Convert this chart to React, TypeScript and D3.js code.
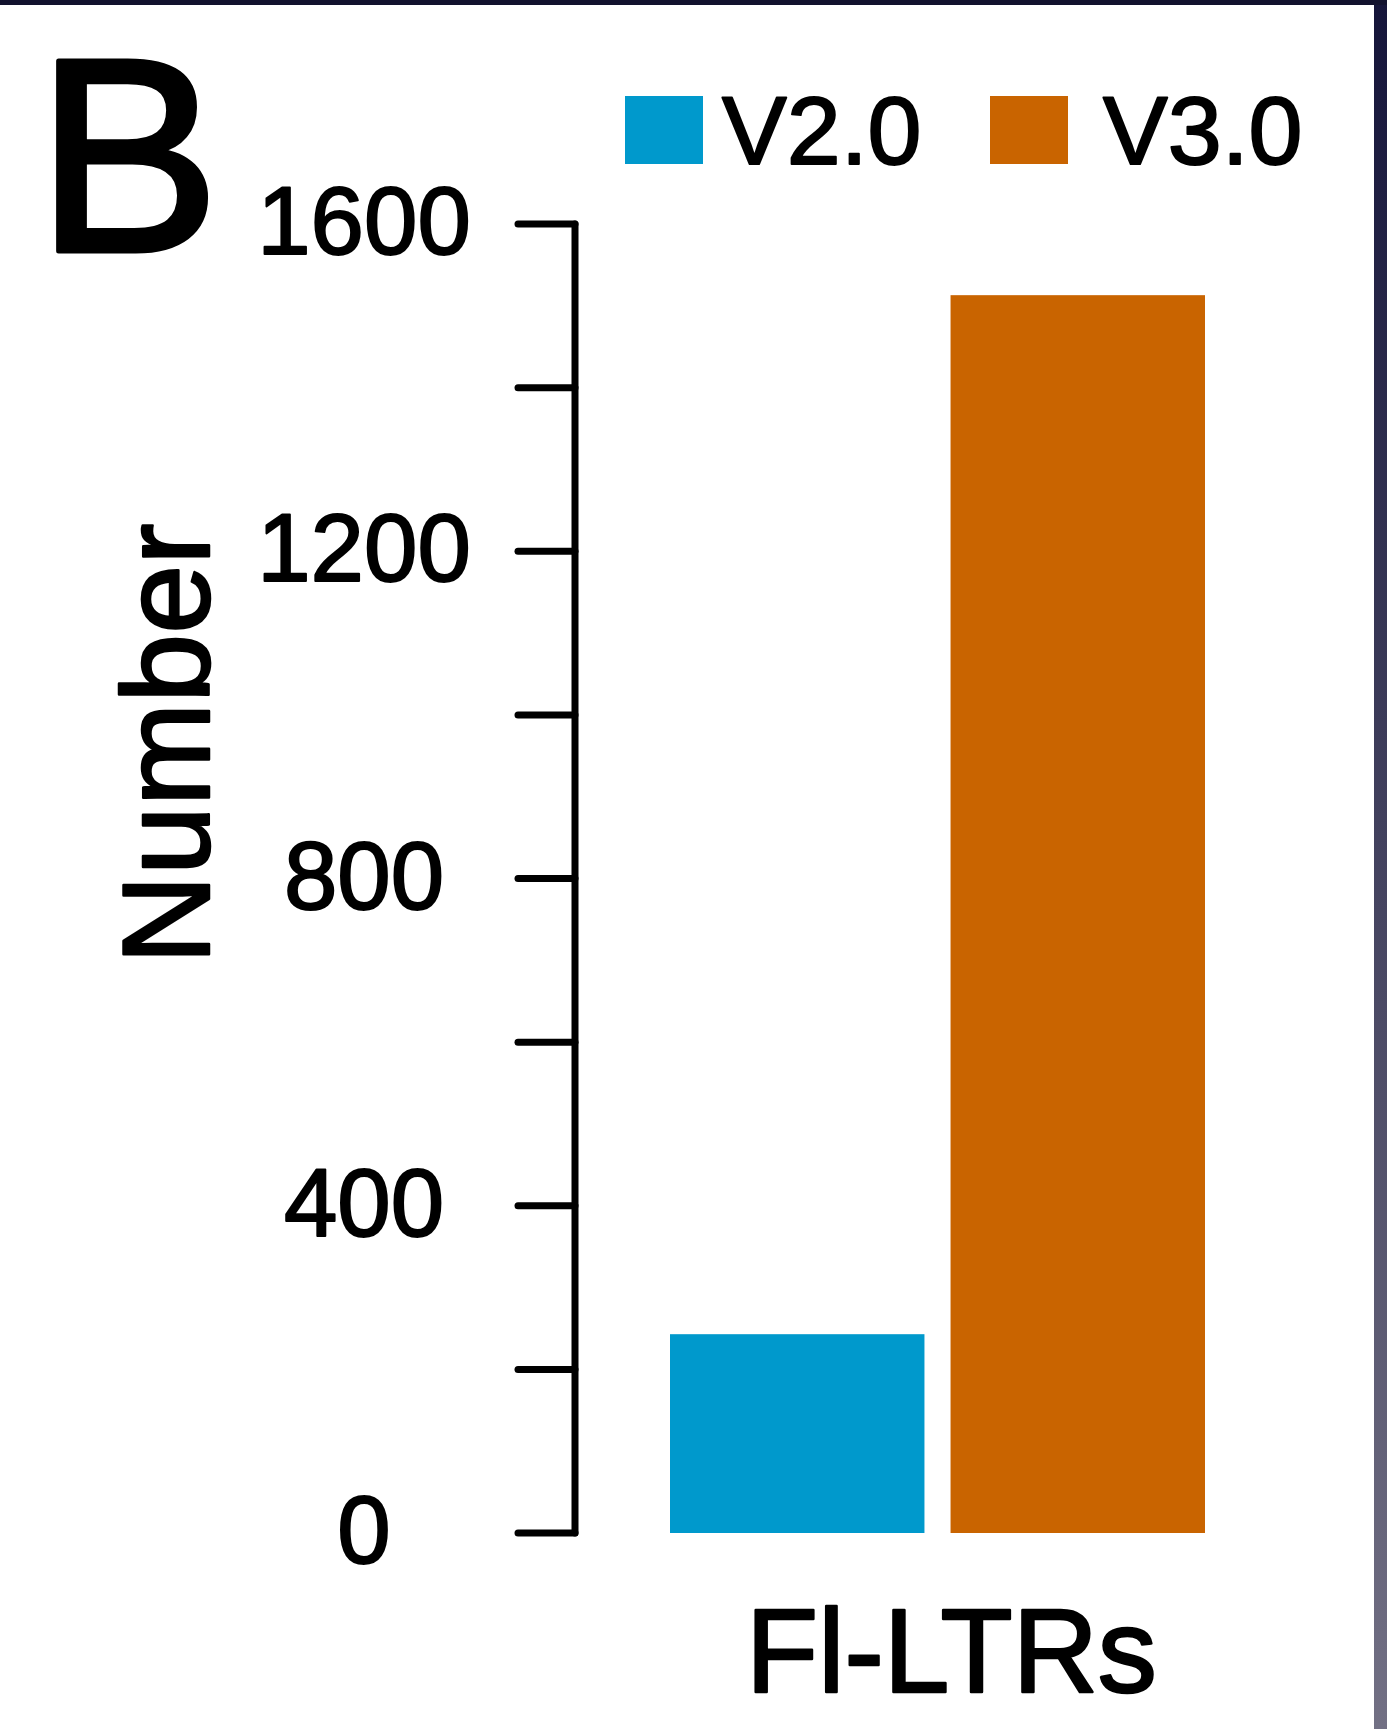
import { useEffect, useRef } from 'react';
import * as d3 from 'd3';

const categories = ['Fl-LTRs'];
const seriesNames = ['V2.0', 'V3.0'];
const seriesColors = ['#0099cc', '#c96400'];
const seriesValues = [243, 1513];
const yTicks = [0, 200, 400, 600, 800, 1000, 1200, 1400, 1600];
const yLabels = [0, 400, 800, 1200, 1600];

const W = 1387;
const H = 1729;
const FONT = "'Liberation Sans', Arial, Helvetica, sans-serif";

export default function App() {
  const svgRef = useRef<SVGSVGElement>(null);

  useEffect(() => {
    if (!svgRef.current) return;
    const svg = d3.select(svgRef.current);
    svg.selectAll('*').remove();
    svg.attr('width', W).attr('height', H);

    // background + dark frame of the screenshot
    const defs = svg.append('defs');
    const grad = defs
      .append('linearGradient')
      .attr('id', 'edge')
      .attr('x1', 0)
      .attr('y1', 0)
      .attr('x2', 0)
      .attr('y2', 1);
    grad.append('stop').attr('offset', '0%').attr('stop-color', '#15153a');
    grad.append('stop').attr('offset', '100%').attr('stop-color', '#727084');
    svg.append('rect').attr('width', W).attr('height', H).attr('fill', '#ffffff');
    svg.append('rect').attr('x', 1374).attr('width', W - 1374).attr('height', H).attr('fill', 'url(#edge)');
    svg.append('rect').attr('width', W).attr('height', 5).attr('fill', '#12122e');

    const y = d3.scaleLinear().domain([0, 1600]).range([1533, 224]);
    const x0 = d3.scaleBand<string>().domain(categories).range([670, 1205]).padding(0);
    const x1 = d3
      .scaleBand<string>()
      .domain(seriesNames)
      .range([0, x0.bandwidth()])
      .paddingInner(0.093)
      .paddingOuter(0);

    const axisX = 575;
    const txt = (sel: d3.Selection<SVGTextElement, unknown, null, undefined>, size: number, sw = 2) =>
      sel
        .attr('font-family', FONT)
        .attr('font-size', size)
        .attr('fill', '#000')
        .attr('stroke', '#000')
        .attr('stroke-width', sw)
        .attr('stroke-linejoin', 'round');

    // y axis
    const axis = svg.append('g').attr('stroke', '#000').attr('stroke-width', 7).attr('stroke-linecap', 'round');
    axis.append('line').attr('x1', axisX).attr('x2', axisX).attr('y1', y(0)).attr('y2', y(1600));
    yTicks.forEach((t) => {
      axis.append('line').attr('x1', 518).attr('x2', axisX).attr('y1', y(t)).attr('y2', y(t));
    });
    yLabels.forEach((t) => {
      txt(
        svg
          .append('text')
          .attr('x', 364)
          .attr('y', y(t) + 30)
          .attr('text-anchor', 'middle'),
        96
      ).text(String(t));
    });

    // bars
    categories.forEach((c) => {
      seriesNames.forEach((s, i) => {
        svg
          .append('rect')
          .attr('x', (x0(c) ?? 0) + (x1(s) ?? 0))
          .attr('y', y(seriesValues[i]))
          .attr('width', x1.bandwidth())
          .attr('height', y(0) - y(seriesValues[i]))
          .attr('fill', seriesColors[i]);
      });
      txt(
        svg
          .append('text')
          .attr('x', (x0(c) ?? 0) + x0.bandwidth() / 2 + 14)
          .attr('y', 1692)
          .attr('text-anchor', 'middle'),
        118,
        2.5
      ).text(c);
    });

    // y title
    txt(
      svg
        .append('text')
        .attr('transform', 'translate(209,744) rotate(-90)')
        .attr('text-anchor', 'middle'),
      124,
      2.5
    ).text('Number');

    // panel letter
    txt(svg.append('text').attr('x', 36).attr('y', 251), 276, 5).text('B');

    // legend
    const legendX = [625, 990];
    const legendTextX = [722, 1103];
    seriesNames.forEach((s, i) => {
      svg
        .append('rect')
        .attr('x', legendX[i])
        .attr('y', 96)
        .attr('width', 78)
        .attr('height', 68)
        .attr('fill', seriesColors[i]);
      txt(svg.append('text').attr('x', legendTextX[i]).attr('y', 164), 97).text(s);
    });
  }, []);

  return <svg ref={svgRef} style={{ position: 'absolute', left: 0, top: 0, display: 'block' }} />;
}
